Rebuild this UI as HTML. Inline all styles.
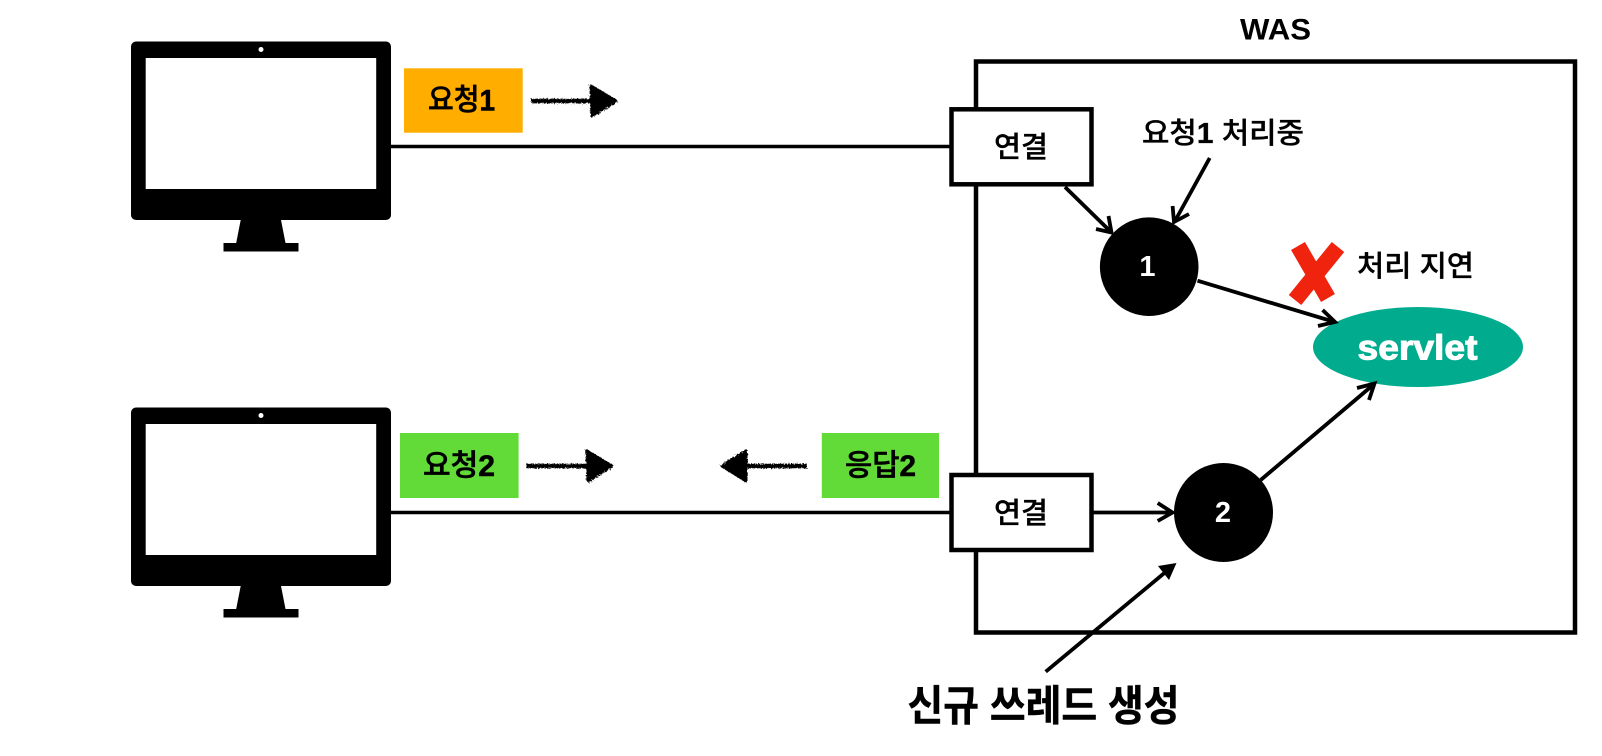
<!DOCTYPE html>
<html lang="ko">
<head>
<meta charset="utf-8">
<title>WAS</title>
<style>
html,body{margin:0;padding:0;background:#fff;}
svg{display:block;}
text{font-family:"Liberation Sans","Noto Sans CJK KR",sans-serif;text-anchor:middle;dominant-baseline:central;fill:#000;}
.m{font-size:29px;font-weight:500;stroke:#000;stroke-width:.35px;}
.b{font-size:30px;font-weight:500;stroke:#000;stroke-width:.6px;}
.d{font-weight:700;}
</style>
</head>
<body>
<svg width="1602" height="756" viewBox="0 0 1602 756" xmlns="http://www.w3.org/2000/svg">
<defs>
<filter id="rough" x="-10%" y="-30%" width="120%" height="160%">
<feTurbulence type="fractalNoise" baseFrequency="0.7" numOctaves="2" seed="3"/>
<feDisplacementMap in="SourceGraphic" scale="4"/>
</filter>
</defs>
<rect width="1602" height="756" fill="#fff"/>

<!-- WAS frame -->
<rect x="976" y="61.5" width="599" height="571" fill="none" stroke="#000" stroke-width="4.5"/>
<text x="1275.5" y="30" font-size="30" font-weight="700" textLength="71" lengthAdjust="spacingAndGlyphs">WAS</text>

<!-- Monitor 1 -->
<g>
<rect x="131" y="41.5" width="260" height="178.5" rx="5" fill="#000"/>
<rect x="145.7" y="58" width="230.5" height="131" fill="#fff"/>
<circle cx="261" cy="49.5" r="2.5" fill="#fff"/>
<polygon points="240.7,220 281,220 285.7,244 236,244" fill="#000"/>
<rect x="223.5" y="243" width="75" height="8.5" fill="#000"/>
</g>
<!-- Monitor 2 -->
<g transform="translate(0,366)">
<rect x="131" y="41.5" width="260" height="178.5" rx="5" fill="#000"/>
<rect x="145.7" y="58" width="230.5" height="131" fill="#fff"/>
<circle cx="261" cy="49.5" r="2.5" fill="#fff"/>
<polygon points="240.7,220 281,220 285.7,244 236,244" fill="#000"/>
<rect x="223.5" y="243" width="75" height="8.5" fill="#000"/>
</g>

<!-- Connections -->
<line x1="391" y1="146.5" x2="950" y2="146.5" stroke="#000" stroke-width="3.5"/>
<line x1="391" y1="512.5" x2="950" y2="512.5" stroke="#000" stroke-width="3.5"/>

<!-- Request/response labels -->
<rect x="404" y="68.3" width="118.7" height="64.4" fill="#FFAE00"/>
<text class="b" x="461.5" y="100.5" textLength="67" lengthAdjust="spacingAndGlyphs">요청<tspan class="d">1</tspan></text>
<rect x="400" y="433" width="118.6" height="65" fill="#62DA38"/>
<text class="b" x="459" y="466" textLength="72" lengthAdjust="spacingAndGlyphs">요청<tspan class="d">2</tspan></text>
<rect x="821.8" y="433" width="117.2" height="65" fill="#62DA38"/>
<text class="b" x="880.5" y="466" textLength="71" lengthAdjust="spacingAndGlyphs">응답<tspan class="d">2</tspan></text>

<!-- Rough arrows -->
<g filter="url(#rough)" fill="#000" stroke="#000" stroke-linejoin="round">
<line x1="531" y1="101" x2="592" y2="101" stroke-width="4.5"/>
<polygon points="591,86 616,101 592,116" stroke-width="3"/>
</g>
<g filter="url(#rough)" fill="#000" stroke="#000" stroke-linejoin="round">
<line x1="526" y1="466" x2="587" y2="466" stroke-width="4.5"/>
<polygon points="587,451 612,466 588,481" stroke-width="3"/>
</g>
<g filter="url(#rough)" fill="#000" stroke="#000" stroke-linejoin="round">
<line x1="746" y1="466" x2="807" y2="466" stroke-width="4.5"/>
<polygon points="746,451 722,466 746,481" stroke-width="3"/>
</g>

<!-- Connection boxes -->
<rect x="951.5" y="109.3" width="140" height="75" fill="#fff" stroke="#000" stroke-width="4.5"/>
<text class="m" x="1021" y="148" textLength="54" lengthAdjust="spacingAndGlyphs">연결</text>
<rect x="951.5" y="475" width="140" height="75" fill="#fff" stroke="#000" stroke-width="4.5"/>
<text class="m" x="1021" y="514" textLength="54" lengthAdjust="spacingAndGlyphs">연결</text>

<!-- Threads -->
<circle cx="1149.2" cy="266.7" r="49.3" fill="#000"/>
<text x="1147.5" y="267" font-size="29" font-weight="700" style="fill:#fff">1</text>
<circle cx="1223.5" cy="512.5" r="49.5" fill="#000"/>
<text x="1223" y="513" font-size="29" font-weight="700" style="fill:#fff">2</text>

<!-- Servlet -->
<ellipse cx="1418" cy="347" rx="105" ry="40" fill="#00AB8E"/>
<text x="1417.5" y="348" font-size="35" font-weight="700" stroke="#fff" stroke-width="1" textLength="120" lengthAdjust="spacingAndGlyphs" style="fill:#fff">servlet</text>

<!-- Open arrows -->
<g fill="none" stroke="#000" stroke-width="3.8">
<line x1="1065" y1="187" x2="1111" y2="232"/>
<polyline points="1096,229 1111.5,232.5 1108.5,216"/>
<line x1="1209.7" y1="158" x2="1175" y2="221"/>
<polyline points="1172.6,206 1174,222 1189,214"/>
<line x1="1197.5" y1="280.7" x2="1333" y2="321.5"/>
<polyline points="1322.6,310 1335,322 1318,326"/>
<line x1="1093" y1="512.5" x2="1172" y2="512.5"/>
<polyline points="1157.7,503 1172.5,512.5 1157.7,521"/>
<line x1="1260.7" y1="480" x2="1373" y2="385"/>
<polyline points="1357,388 1374.5,383.5 1369,400"/>
<line x1="1045.7" y1="671.7" x2="1168" y2="570"/>
</g>
<polygon points="1176.5,563 1158,566 1169,580" fill="#000"/>

<!-- Red X -->
<g stroke="#F0230F" stroke-width="16" fill="none">
<line x1="1298" y1="246" x2="1328" y2="298"/>
<line x1="1338" y1="247" x2="1295" y2="300"/>
</g>

<!-- Annotations -->
<text class="m" x="1223" y="134" textLength="162" lengthAdjust="spacingAndGlyphs">요청<tspan class="d">1</tspan> 처리중</text>
<text class="m" x="1415.5" y="267" textLength="117" lengthAdjust="spacingAndGlyphs">처리 지연</text>
<text x="1043.5" y="706" font-size="42" font-weight="700" stroke="#000" stroke-width=".5" textLength="272" lengthAdjust="spacingAndGlyphs">신규 쓰레드 생성</text>
</svg>
</body>
</html>
